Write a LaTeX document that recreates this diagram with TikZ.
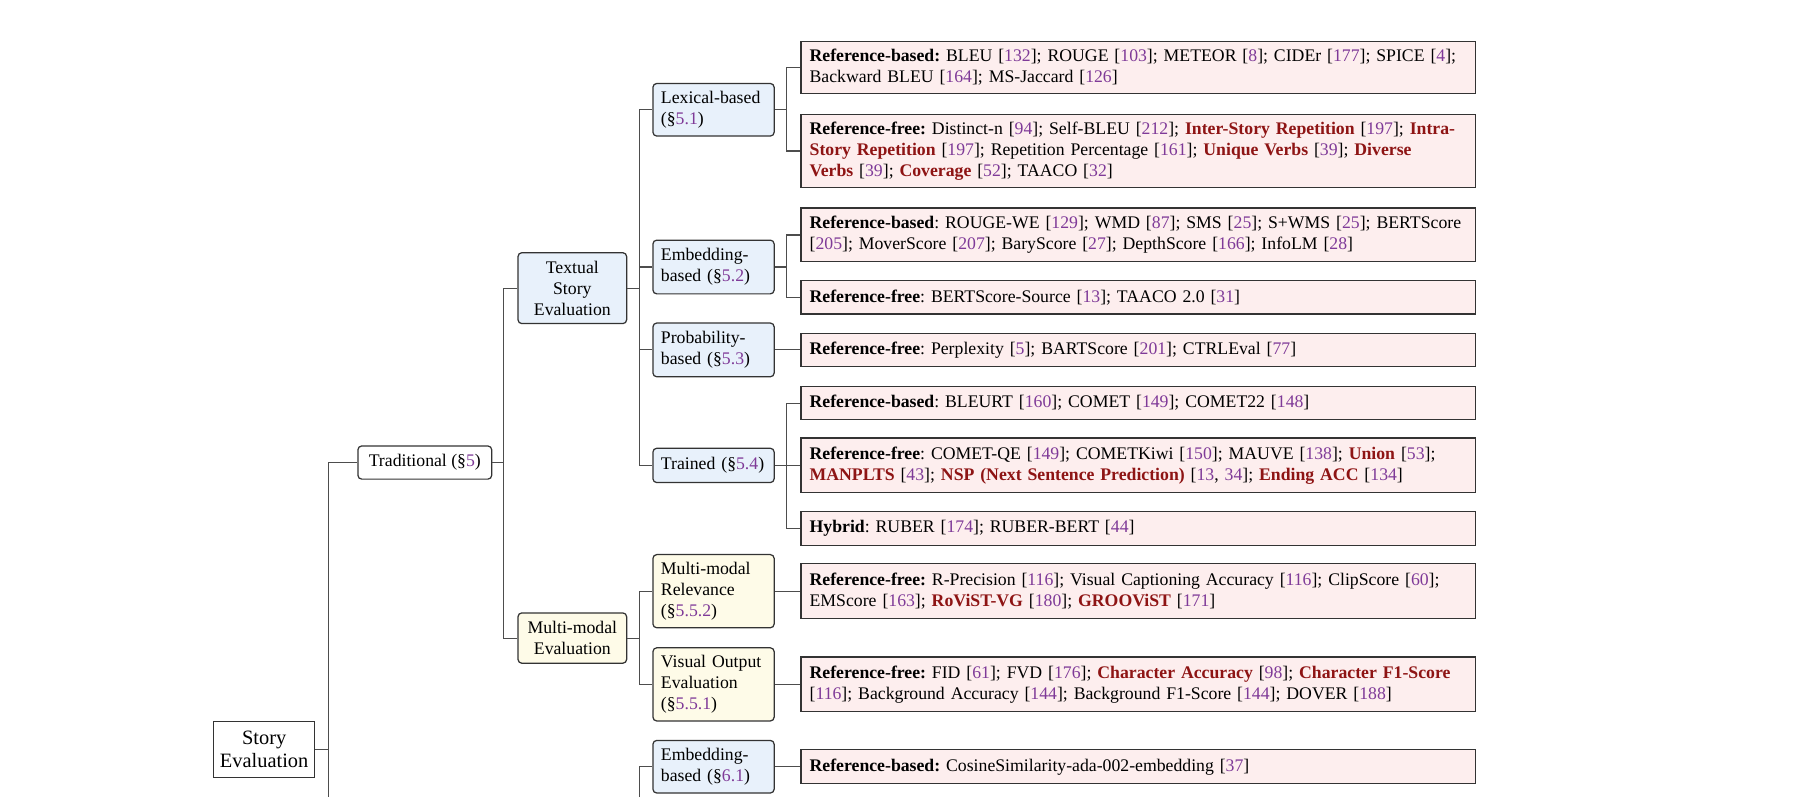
\documentclass[tikz,border=0pt]{standalone}
\usepackage{fontspec}
\setmainfont{Liberation Serif}
\usepackage{tikz}
\usetikzlibrary{calc,positioning}
\frenchspacing

\definecolor{boxline}{HTML}{333333}
\definecolor{linkgray}{HTML}{4D4D4D}
\definecolor{bluefill}{HTML}{E8F1FB}
\definecolor{yellowfill}{HTML}{FEFBE8}
\definecolor{pinkfill}{HTML}{FDEEEE}
\definecolor{metricred}{HTML}{8E1414}
\definecolor{citecol}{HTML}{7F3A98}

\newcommand{\cn}[1]{\textcolor{citecol}{#1}}
\newcommand{\rf}[1]{[\cn{#1}]}
\newcommand{\mtr}[1]{\textbf{\textcolor{metricred}{#1}}}
\newcommand{\sref}[1]{(\S\cn{#1})}

\tikzset{
  rootbox/.style={draw=boxline, line width=0.65pt, fill=white, align=center,
    font=\fontsize{10.7}{12}\selectfont, minimum width=52.8pt, inner sep=2pt},
  catbox/.style={draw=boxline, line width=0.65pt, rounded corners=2pt, inner sep=2pt},
  midbox/.style={catbox, align=center, text width=50pt, inner xsep=3.5pt},
  subbox/.style={catbox, align=left, text width=55.2pt, inner xsep=4.2pt},
  leafbox/.style={draw=boxline, line width=0.65pt, fill=pinkfill, align=left,
    text width=345pt, inner xsep=4.5pt, inner ysep=2pt, anchor=west},
  link/.style={draw=linkgray, line width=0.6pt},
}

\begin{document}
\begin{tikzpicture}[x=0.6pt, y=-0.6pt, font=\fontsize{9.3}{11}\selectfont]
  \useasboundingbox (0,0) rectangle (1568,697);

  % Root
  \node[rootbox, minimum height=29.4pt] (root) at (231,655.5) {Story\\Evaluation};

  % Traditional
  \node[catbox, fill=white, minimum width=70.2pt, minimum height=17.4pt] (trad) at (371.5,404.5) {Traditional \sref{5}};

  % Textual and multi-modal
  \node[midbox, fill=bluefill, minimum height=37.2pt] (textual) at (500.5,252) {Textual\\Story\\Evaluation};
  \node[midbox, fill=yellowfill, minimum height=26.4pt] (mmeval) at (500.5,558) {Multi-modal\\Evaluation};

  % Metric families
  \node[subbox, fill=bluefill, minimum height=27.6pt] (lex) at (624,96) {Lexical-based\\\sref{5.1}};
  \node[subbox, fill=bluefill, minimum height=28.2pt] (emb) at (624,233.5) {Embedding-\\based \sref{5.2}};
  \node[subbox, fill=bluefill, minimum height=28.2pt] (prob) at (624,306) {Probability-\\based \sref{5.3}};
  \node[subbox, fill=bluefill, minimum height=18pt] (trained) at (624,407) {Trained \sref{5.4}};
  \node[subbox, fill=yellowfill, minimum height=38.4pt] (mmrel) at (624,517) {Multi-modal\\Relevance\\\sref{5.5.2}};
  \node[subbox, fill=yellowfill, minimum height=38.4pt] (visout) at (624,598.5) {Visual Output\\Evaluation\\\sref{5.5.1}};
  \node[subbox, fill=bluefill, minimum height=27.6pt] (embllm) at (624,670.5) {Embedding-\\based \sref{6.1}};

  % Metric lists
  \node[leafbox, minimum height=27.6pt] (lexbased) at (700,59) {\textbf{Reference-based:} BLEU \rf{132}; ROUGE \rf{103}; METEOR \rf{8}; CIDEr \rf{177}; SPICE \rf{4};\\Backward BLEU \rf{164}; MS-Jaccard \rf{126}};
  \node[leafbox, minimum height=38.4pt] (lexfree) at (700,132) {\textbf{Reference-free:} Distinct-n \rf{94}; Self-BLEU \rf{212}; \mtr{Inter-Story Repetition} \rf{197}; \mtr{Intra-}\\\mtr{Story Repetition} \rf{197}; Repetition Percentage \rf{161}; \mtr{Unique Verbs} \rf{39}; \mtr{Diverse}\\\mtr{Verbs} \rf{39}; \mtr{Coverage} \rf{52}; TAACO \rf{32}};
  \node[leafbox, minimum height=28.2pt] (embbased) at (700,205.5) {\textbf{Reference-based}: ROUGE-WE \rf{129}; WMD \rf{87}; SMS \rf{25}; S+WMS \rf{25}; BERTScore\\\rf{205}; MoverScore \rf{207}; BaryScore \rf{27}; DepthScore \rf{166}; InfoLM \rf{28}};
  \node[leafbox, minimum height=17.4pt] (embfree) at (700,260) {\textbf{Reference-free}: BERTScore-Source \rf{13}; TAACO 2.0 \rf{31}};
  \node[leafbox, minimum height=17.4pt] (probfree) at (700,306) {\textbf{Reference-free}: Perplexity \rf{5}; BARTScore \rf{201}; CTRLEval \rf{77}};
  \node[leafbox, minimum height=17.4pt] (trbased) at (700,352.5) {\textbf{Reference-based}: BLEURT \rf{160}; COMET \rf{149}; COMET22 \rf{148}};
  \node[leafbox, minimum height=28.8pt] (trfree) at (700,407) {\textbf{Reference-free}: COMET-QE \rf{149}; COMETKiwi \rf{150}; MAUVE \rf{138}; \mtr{Union} \rf{53};\\\mtr{MANPLTS} \rf{43}; \mtr{NSP (Next Sentence Prediction)} [\cn{13}, \cn{34}]; \mtr{Ending ACC} \rf{134}};
  \node[leafbox, minimum height=18pt] (trhybrid) at (700,462) {\textbf{Hybrid}: RUBER \rf{174}; RUBER-BERT \rf{44}};
  \node[leafbox, minimum height=28.8pt] (relfree) at (700,517) {\textbf{Reference-free:} R-Precision \rf{116}; Visual Captioning Accuracy \rf{116}; ClipScore \rf{60};\\EMScore \rf{163}; \mtr{RoViST-VG} \rf{180}; \mtr{GROOViST} \rf{171}};
  \node[leafbox, minimum height=28.8pt] (visfree) at (700,598.5) {\textbf{Reference-free:} FID \rf{61}; FVD \rf{176}; \mtr{Character Accuracy} \rf{98}; \mtr{Character F1-Score}\\\rf{116}; Background Accuracy \rf{144}; Background F1-Score \rf{144}; DOVER \rf{188}};
  \node[leafbox, minimum height=18pt] (llmbased) at (700,670.5) {\textbf{Reference-based:} CosineSimilarity-ada-002-embedding \rf{37}};

  % Fork columns
  \coordinate (fk0) at (287,0);
  \coordinate (fk1) at (440,0);
  \coordinate (fk2) at (559,0);
  \coordinate (fk3) at (688,0);
  \coordinate (bottom) at (0,697);

  % Connectors
  \draw[link] (root.east) -- (root.east -| fk0) |- (trad.west);
  \draw[link] (root.east -| fk0) -- (fk0 |- bottom);
  \foreach \c in {textual,mmeval}
    \draw[link] (trad.east) -- (trad.east -| fk1) |- (\c.west);
  \foreach \c in {lex,emb,prob,trained}
    \draw[link] (textual.east) -- (textual.east -| fk2) |- (\c.west);
  \foreach \c in {mmrel,visout}
    \draw[link] (mmeval.east) -- (mmeval.east -| fk2) |- (\c.west);
  \draw[link] (fk2 |- bottom) |- (embllm.west);
  \foreach \p/\c in {lex/lexbased,lex/lexfree,emb/embbased,emb/embfree,trained/trbased,trained/trfree,trained/trhybrid}
    \draw[link] (\p.east) -- (\p.east -| fk3) |- (\c.west);
  \foreach \p/\c in {prob/probfree,mmrel/relfree,visout/visfree,embllm/llmbased}
    \draw[link] (\p.east) -- (\c.west);
\end{tikzpicture}
\end{document}
